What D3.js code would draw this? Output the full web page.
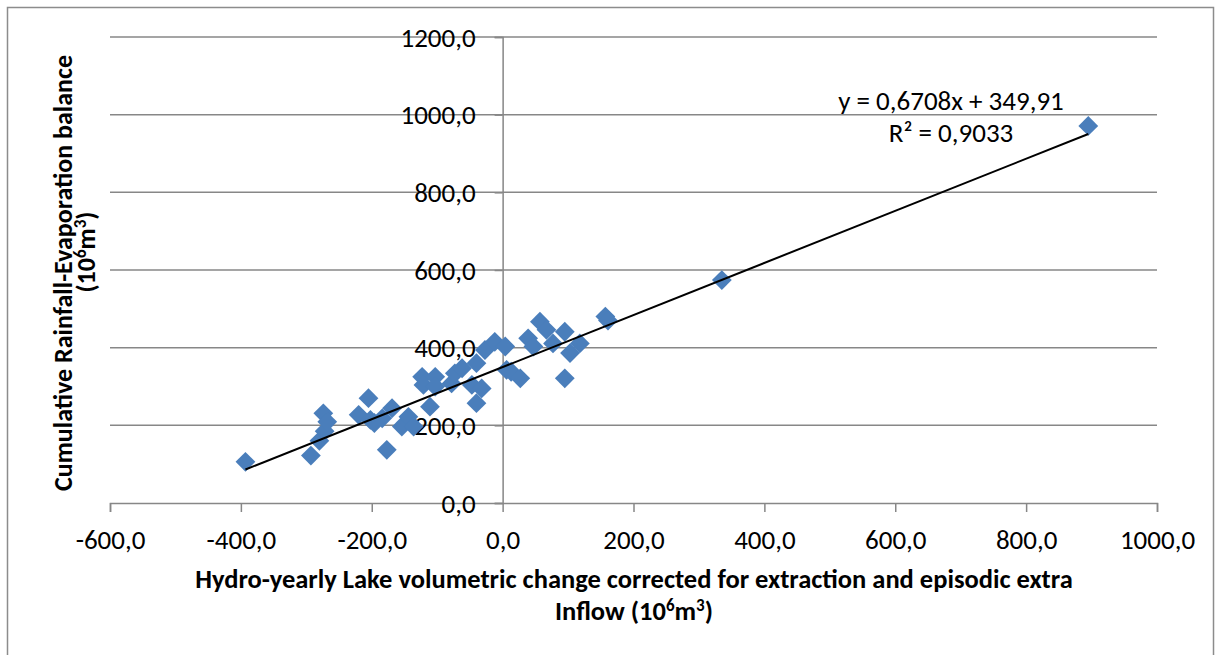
<!DOCTYPE html>
<html>
<head>
<meta charset="utf-8">
<script src="https://cdn.jsdelivr.net/npm/d3@7/dist/d3.min.js"></script>
<style>
  body { margin: 0; background: #fff; }
  text { font-family: Carlito, Calibri, Lato, "Open Sans", sans-serif; fill: #000; }
</style>
</head>
<body>
<svg id="chart" width="1220" height="655"></svg>
<script>
// hydro-yearly lake volume change (10^6 m3)
const volumeChange = [
  -393, -293, -280, -272, -274, -268,
  -205, -220, -202, -196, -184, -169, -177, -154, -144, -136,
  -111, -123, -121, -103, -103, -78, -73, -62,
  -40, -47, -32, -40, -27, -12, 4, 6, 13, 27,
  39, 47, 57, 67, 77, 95, 103, 118, 95, 157, 161,
  335, 895
];
// cumulative rainfall - evaporation balance (10^6 m3)
const rainfallBalance = [
  106, 122, 160, 185, 231, 209,
  270, 227, 214, 206, 218, 244, 137, 197, 222, 197,
  248, 325, 304, 325, 300, 308, 334, 347,
  360, 304, 295, 257, 394, 415, 403, 343, 338, 321,
  424, 403, 467, 446, 411, 441, 386, 411, 321, 480, 470,
  574, 971
];

const xTicks = [-600, -400, -200, 0, 200, 400, 600, 800, 1000];
const yTicks = [0, 200, 400, 600, 800, 1000, 1200];

const trendSlope = 0.6708;
const trendIntercept = 349.91;
const trendEquation = "y = 0,6708x + 349,91";
const trendR2 = "R² = 0,9033";

let svg = d3.select("#chart");

let locale = d3.formatLocale({decimal: ",", thousands: "", grouping: [3], currency: ["", ""], minus: "-"});
let fmt = locale.format(".1f");

let x = d3.scaleLinear().domain([-600, 1000]).range([110, 1157]);
let y = d3.scaleLinear().domain([0, 1200]).range([503, 37]);

// chart frame
svg.append("rect")
    .attr("x", 7.5).attr("y", 7.5)
    .attr("width", 1206).attr("height", 700)
    .attr("fill", "none")
    .attr("stroke", "#8c8c8c")
    .attr("stroke-width", 1.5);

// horizontal gridlines
svg.append("g")
    .selectAll("line")
    .data(yTicks.filter(d => d > 0))
    .enter().append("line")
    .attr("x1", x(-600)).attr("x2", x(1000))
    .attr("y1", d => y(d)).attr("y2", d => y(d))
    .attr("stroke", "#878787")
    .attr("stroke-width", 1.5);

// x axis (crosses at y = 0)
let xAxis = svg.append("g")
    .attr("transform", `translate(0,${y(0)})`)
    .call(d3.axisBottom(x).tickValues(xTicks).tickFormat(fmt).tickSize(9).tickPadding(18));

// y axis (crosses at x = 0)
let yAxis = svg.append("g")
    .attr("transform", `translate(${x(0)},0)`)
    .call(d3.axisLeft(y).tickValues(yTicks).tickFormat(fmt).tickSize(8).tickPadding(19));

[xAxis, yAxis].forEach(a => {
    a.select(".domain").attr("stroke", "#878787").attr("stroke-width", 1.5);
    a.selectAll(".tick line").attr("stroke", "#878787").attr("stroke-width", 1.5);
    a.selectAll(".tick text").style("font-size", "27px").attr("fill", "#000");
});
xAxis.selectAll(".tick text").attr("dy", "0.71em");
yAxis.selectAll(".tick text").attr("dy", "0.34em");

// points
let points = volumeChange.map((v, i) => ({x: v, y: rainfallBalance[i]}));

svg.append("g")
    .selectAll("path")
    .data(points)
    .enter().append("path")
    .attr("transform", d => `translate(${x(d.x)},${y(d.y)})`)
    .attr("d", d3.symbol().type(d3.symbolDiamond2).size(250))
    .attr("fill", "#4a7ebb");

// linear trendline
let xMin = d3.min(volumeChange), xMax = d3.max(volumeChange);
svg.append("line")
    .attr("x1", x(xMin)).attr("y1", y(trendSlope * xMin + trendIntercept))
    .attr("x2", x(xMax)).attr("y2", y(trendSlope * xMax + trendIntercept))
    .attr("stroke", "#000")
    .attr("stroke-width", 2);

svg.append("text")
    .attr("x", 951).attr("y", 110)
    .attr("text-anchor", "middle")
    .style("font-size", "27px")
    .text(trendEquation);
svg.append("text")
    .attr("x", 951).attr("y", 142)
    .attr("text-anchor", "middle")
    .style("font-size", "27px")
    .text(trendR2);

// axis titles
function unitText(sel){
    sel.append("tspan").text("(10");
    sel.append("tspan").attr("dy", -9).style("font-size", "17px").text("6");
    sel.append("tspan").attr("dy", 9).text("m");
    sel.append("tspan").attr("dy", -9).style("font-size", "17px").text("3");
    sel.append("tspan").attr("dy", 9).text(")");
}

svg.append("text")
    .attr("x", 634).attr("y", 588)
    .attr("text-anchor", "middle")
    .style("font-size", "26.5px").style("font-weight", "bold")
    .text("Hydro-yearly Lake volumetric change corrected for extraction and episodic extra");

let xt2 = svg.append("text")
    .attr("x", 634).attr("y", 620)
    .attr("text-anchor", "middle")
    .style("font-size", "26.5px").style("font-weight", "bold");
xt2.append("tspan").text("Inflow ");
unitText(xt2);

svg.append("text")
    .attr("transform", "translate(72,273) rotate(-90)")
    .attr("text-anchor", "middle")
    .style("font-size", "26px").style("font-weight", "bold")
    .text("Cumulative Rainfall-Evaporation balance");

let yt2 = svg.append("text")
    .attr("transform", "translate(95,252) rotate(-90)")
    .attr("text-anchor", "middle")
    .style("font-size", "26px").style("font-weight", "bold");
unitText(yt2);
</script>
</body>
</html>
